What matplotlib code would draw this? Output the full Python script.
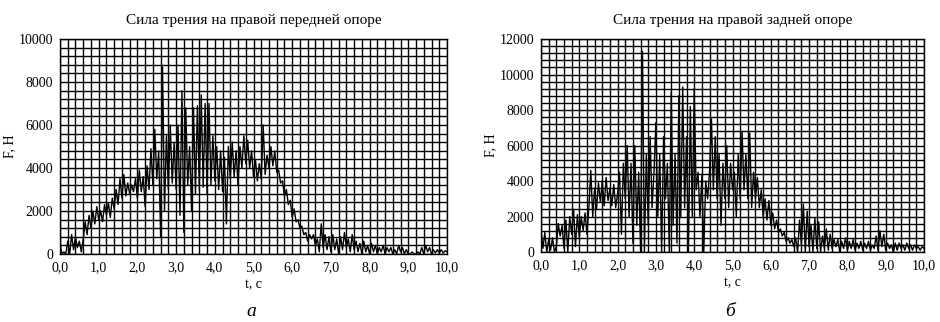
import numpy as np
import matplotlib
matplotlib.use("Agg")
import matplotlib.pyplot as plt
from matplotlib.ticker import MultipleLocator, FuncFormatter

plt.rcParams['font.family'] = ['Liberation Serif', 'DejaVu Serif']

# time samples (s), step 0.05
t = np.linspace(0.0, 10.0, 201)

# Friction force, right front support (N)
force_front = [
    500, 0, 100, 0, 600, 0, 900, 200, 800, 300, 600, 100, 700, 1500, 900, 1800, 1200, 2000, 1400, 2200,
    1600, 2000, 1500, 2300, 1800, 2400, 1700, 2600, 2100, 3000, 2300, 3500, 2600, 3700, 2700, 3300, 2800, 3200, 2900, 3500,
    2600, 3900, 2900, 3600, 2200, 4100, 3000, 4900, 3200, 5800, 3500, 4800, 800, 8700, 2000, 5500, 3000, 6000, 3300, 5200,
    3000, 6000, 1800, 7600, 1000, 6800, 3200, 5000, 2000, 6800, 2800, 6900, 3000, 7400, 3100, 7000, 2800, 7000, 3200, 5500,
    3400, 5000, 3000, 4800, 2900, 4500, 1400, 5000, 3500, 5200, 3600, 4800, 3200, 5000, 4000, 5500, 4200, 5300, 4000, 4800,
    3600, 4400, 3400, 4200, 3500, 6000, 3700, 4600, 4000, 5000, 4100, 4800, 3800, 3900, 3300, 3400, 2700, 3000, 2300, 2500,
    1700, 2100, 1500, 1600, 1200, 1300, 900, 1000, 600, 900, 700, 900, 400, 700, 100, 1400, 300, 900, 200, 800,
    100, 900, 200, 700, 0, 800, 200, 1000, 300, 700, 100, 900, 200, 600, 100, 500, 0, 600, 100, 400,
    0, 500, 100, 400, 0, 300, 100, 400, 0, 300, 100, 300, 0, 200, 0, 400, 100, 300, 0, 200,
    0, 0, 100, 0, 0, 100, 0, 300, 0, 400, 100, 300, 0, 200, 50, 200, 50, 200, 50, 150,
    100,
]

# Friction force, right rear support (N)
force_rear = [
    1200, 200, 1100, 0, 700, 100, 800, 0, 300, 1600, 900, 1500, 200, 1800, 0, 2000, 1000, 2400, 300, 2100,
    800, 2000, 1200, 2200, 1000, 2500, 4600, 2000, 3600, 2400, 3900, 2800, 4000, 2600, 4200, 2900, 3600, 2600, 3800, 2500,
    3300, 4500, 1000, 5000, 3000, 6000, 2000, 5000, 500, 6000, 1500, 4500, 0, 11300, 0, 5500, 1500, 6500, 2500, 4500,
    7300, 2000, 5500, 0, 6500, 3000, 5000, 0, 9000, 1500, 5500, 500, 8800, 2000, 9300, 2500, 6500, 0, 8200, 2000,
    9200, 3500, 4500, 2000, 4300, 0, 4000, 3000, 4500, 7500, 3500, 6500, 3000, 5500, 1500, 5000, 3000, 6000, 2500, 5000,
    3500, 4500, 2000, 5500, 3000, 6800, 3500, 5500, 3000, 6700, 2500, 4500, 3000, 4200, 2500, 3500, 2000, 3000, 1800, 2900,
    1500, 2200, 1300, 1800, 1100, 1300, 900, 1100, 600, 800, 500, 700, 300, 800, 0, 1800, 400, 2700, 0, 2300,
    300, 1500, 0, 1900, 200, 1700, 0, 900, 200, 1300, 100, 1000, 200, 700, 300, 700, 0, 600, 200, 800,
    100, 600, 200, 700, 100, 500, 200, 600, 100, 500, 200, 600, 100, 400, 200, 900, 100, 1200, 300, 1000,
    100, 500, 200, 400, 0, 500, 100, 500, 200, 400, 100, 500, 200, 400, 100, 400, 200, 300, 100, 300,
    200,
]

titles = ["Сила трения на правой передней опоре", "Сила трения на правой задней опоре"]
panel_labels = ["а", "б"]
y_max = [10000, 12000]
x_ticks = np.arange(0, 11, 1)
x_ticklabels = [f"{v:.1f}".replace(".", ",") for v in x_ticks]

fig = plt.figure(figsize=(9.4, 3.22), dpi=100)
W, H = 940, 322
boxes = [(60, 39, 447, 254), (541, 39, 924, 252)]  # left, top, right, bottom in px
ylabel_x = [16, 497]

for i, (series, box) in enumerate(zip([force_front, force_rear], boxes)):
    l, tp, r, b = box
    ax = fig.add_axes([l / W, 1 - b / H, (r - l) / W, (b - tp) / H])
    ax.plot(t, series, color="black", lw=1.0)
    ax.set_xlim(0, 10)
    ax.set_ylim(0, y_max[i])
    ax.xaxis.set_minor_locator(MultipleLocator(0.2))
    ax.yaxis.set_major_locator(MultipleLocator(2000))
    ax.yaxis.set_minor_locator(MultipleLocator(400))
    ax.set_xticks(x_ticks)
    ax.set_xticklabels(x_ticklabels)
    ax.yaxis.set_major_formatter(FuncFormatter(lambda v, p: f"{int(v)}"))
    ax.grid(True, which="both", color="black", lw=1.0)
    ax.set_axisbelow(True)
    ax.tick_params(which="both", length=0, labelsize=10, pad=5)
    for sp in ax.spines.values():
        sp.set_color("black")
        sp.set_linewidth(1.0)
    ax.set_xlabel("t, c", fontsize=10, labelpad=3)
    ax.set_ylabel("F, H", fontsize=10)
    ax.yaxis.set_label_coords((ylabel_x[i] - l) / (r - l), 0.5)
    ax.set_title(titles[i], fontsize=11, pad=11)
    cx = (l + r) / 2 / W
    fig.text(cx - 2 / W, 1 - 311 / H, panel_labels[i], ha="center", va="center",
             fontsize=14, style="italic")

fig.savefig("out.png", dpi=100)
